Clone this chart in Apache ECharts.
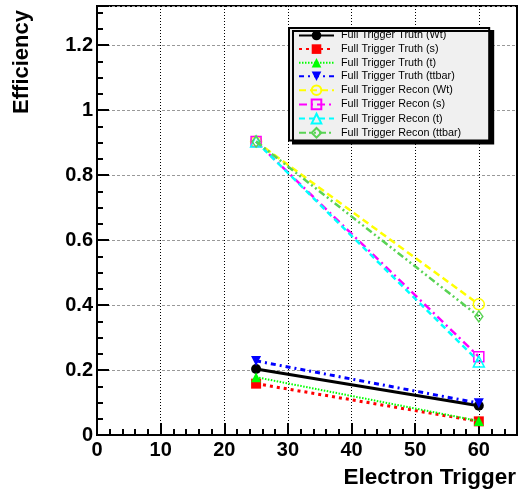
<!DOCTYPE html>
<html><head><meta charset="utf-8">
<script src="https://cdn.jsdelivr.net/npm/echarts@6/dist/echarts.min.js"></script>
<style>html,body{margin:0;padding:0;background:#fff}#c{width:520px;height:496px}</style>
</head><body><div id="c"></div>
<script>
// ---- data ----
var xValues = [25, 60];
var seriesNames = [
  'Full Trigger Truth (Wt)', 'Full Trigger Truth (s)', 'Full Trigger Truth (t)', 'Full Trigger Truth (ttbar)',
  'Full Trigger Recon (Wt)', 'Full Trigger Recon (s)', 'Full Trigger Recon (t)', 'Full Trigger Recon (ttbar)'
];
var truthWt    = [0.203, 0.090];
var truthS     = [0.158, 0.042];
var truthT     = [0.178, 0.043];
var truthTtbar = [0.228, 0.098];
var reconWt    = [0.903, 0.402];
var reconS     = [0.903, 0.241];
var reconT     = [0.903, 0.226];
var reconTtbar = [0.903, 0.365];
var xTitle = 'Electron Trigger';
var yTitle = 'Efficiency';

var values = [truthWt, truthS, truthT, truthTtbar, reconWt, reconS, reconT, reconTtbar];
var styles = [
  {color:'#000000', width:3,   type:'solid',        symbol:'circle',   size:10, filled:true},
  {color:'#ff0000', width:3,   type:[3,4],          symbol:'rect',     size:10, filled:true},
  {color:'#00ff00', width:2,   type:[1.5,1.5],      symbol:'triangle', size:10, filled:true},
  {color:'#0000ff', width:3,   type:[5,4,2,4],      symbol:'triangle', size:10, filled:true, rotate:180},
  {color:'#ffff00', width:2.5, type:[7,4],          symbol:'circle',   size:11, filled:false},
  {color:'#ff00ff', width:2.5, type:[8,4,2,4],      symbol:'rect',     size:10, filled:false},
  {color:'#00ffff', width:2.5, type:[6,4],          symbol:'triangle', size:11, filled:false},
  {color:'#59d354', width:2.5, type:[7,3,2,3,2,3],  symbol:'diamond',  size:10, filled:false}
];

var series = values.map(function(v, i){
  var s = styles[i];
  return {
    name: seriesNames[i],
    type: 'line',
    data: xValues.map(function(x, j){ return [x, v[j]]; }),
    symbol: s.symbol,
    symbolSize: s.symbol === 'diamond' ? [8, 11] : s.size,
    symbolRotate: s.rotate || 0,
    showAllSymbol: true,
    lineStyle: {color: s.color, width: s.width, type: s.type},
    itemStyle: s.filled ? {color: s.color, borderWidth: 0}
                        : {color: 'rgba(0,0,0,0)', borderColor: s.color, borderWidth: 1.5},
    emphasis: {disabled: true},
    animation: false,
    z: 2 + i
  };
});

var chart = echarts.init(document.getElementById('c'), null, {renderer: 'canvas'});
var font = 'Liberation Sans, Arial, Helvetica, sans-serif';
chart.setOption({
  animation: false,
  backgroundColor: '#ffffff',
  grid: {left: 97, right: 3, top: 6, bottom: 61, show: true, borderColor: '#000', borderWidth: 2, backgroundColor: 'transparent'},
  xAxis: {
    type: 'value', min: 0, max: 66, interval: 10,
    axisLine: {show: true, lineStyle: {color: '#000', width: 2}},
    axisTick: {show: true, inside: true, length: 12, lineStyle: {color: '#000', width: 2}},
    minorTick: {show: true, splitNumber: 5, length: 6, lineStyle: {color: '#000', width: 2}},
    splitLine: {show: true, lineStyle: {color: '#000', width: 1, type: [1, 2]}},
    axisLabel: {show: true, showMaxLabel: false, margin: 5, color: '#000', fontFamily: font, fontWeight: 'bold', fontSize: 20},
  },
  yAxis: {
    type: 'value', min: 0, max: 1.32, interval: 0.2,
    axisLine: {show: true, lineStyle: {color: '#000', width: 2}},
    axisTick: {show: true, inside: true, length: 12, lineStyle: {color: '#000', width: 2}},
    minorTick: {show: true, splitNumber: 4, length: 6, lineStyle: {color: '#000', width: 2}},
    splitLine: {show: true, lineStyle: {color: '#999', width: 1, type: [3, 2]}},
    axisLabel: {show: true, showMaxLabel: false, margin: 4, color: '#000', fontFamily: font, fontWeight: 'bold', fontSize: 20,
      formatter: function(v){ return String(Math.round(v*10)/10); }},
  },
  legend: {
    show: true, orient: 'vertical', left: 289, top: 28,
    itemWidth: 35, itemHeight: 12, itemGap: 2.6,
    padding: [2, 28, 2, 9],
    backgroundColor: '#f0f0f0', borderColor: '#000', borderWidth: 2,
    shadowColor: '#000', shadowBlur: 0, shadowOffsetX: 4, shadowOffsetY: 3,
    selectedMode: false,
    textStyle: {color: '#000', fontFamily: font, fontSize: 10.8, padding: [0, 0, 0, 2]},
    data: seriesNames
  },
  graphic: [
    {type: 'text', x: 22, y: 10, rotation: Math.PI/2,
      style: {text: yTitle, fill: '#000', font: 'bold 22px ' + font, align: 'right', verticalAlign: 'middle'}},
    {type: 'text', x: 516, y: 478,
      style: {text: xTitle, fill: '#000', font: 'bold 22.5px ' + font, align: 'right', verticalAlign: 'middle'}}
  ],
  series: series
});
</script></body></html>
